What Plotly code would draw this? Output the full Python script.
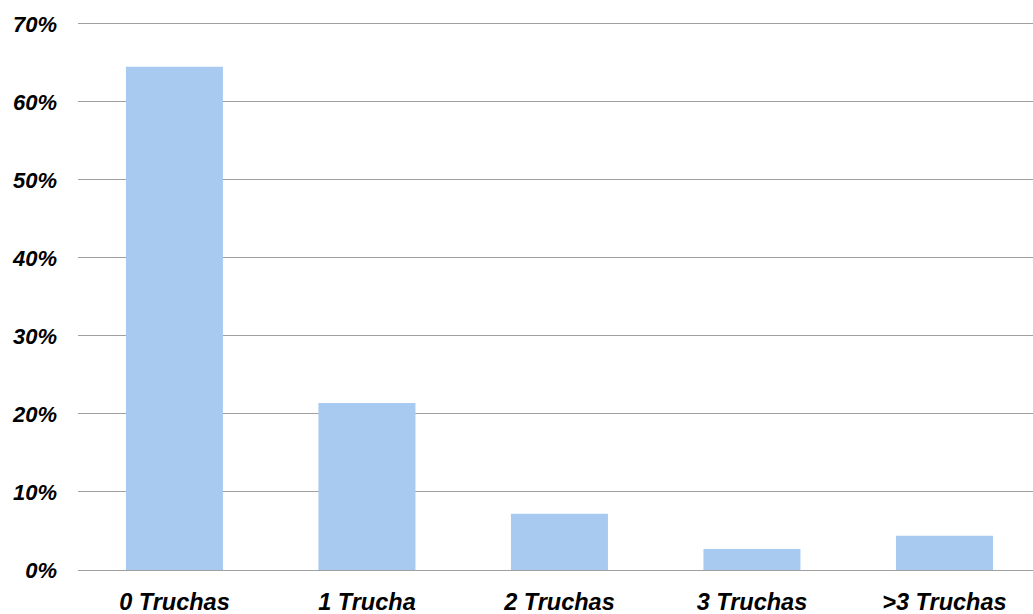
import plotly.graph_objects as go

categories = ["0 Truchas", "1 Trucha", "2 Truchas", "3 Truchas", ">3 Truchas"]
values = [64.5, 21.4, 7.2, 2.7, 4.4]
y_ticks = [0, 10, 20, 30, 40, 50, 60, 70]

font = dict(family="Liberation Sans, Arial, sans-serif", size=22, color="#000000")
xfont = dict(family="Liberation Sans, Arial, sans-serif", size=23.5, color="#000000")

fig = go.Figure(go.Bar(
    x=categories, y=values,
    marker=dict(color="#A8CAF0", line=dict(width=0)),
))

fig.update_layout(
    width=1033, height=614,
    margin=dict(l=78, r=0, t=20, b=44),
    plot_bgcolor="white", paper_bgcolor="white",
    bargap=0.496,
    showlegend=False,
    font=font,
)
fig.update_yaxes(
    range=[0, 70.5], tickvals=y_ticks, ticktext=[f"<b><i>{v}%</i></b>" for v in y_ticks],
    showgrid=True, gridcolor="#a0a0a0", gridwidth=1,
    zeroline=True, zerolinecolor="#a0a0a0", zerolinewidth=1,
    showline=False, ticks="", ticklabelstandoff=20, tickfont=font,
)
fig.update_xaxes(
    range=[-0.501, 4.46],
    tickvals=categories, ticktext=[f"<b><i>{c}</i></b>" for c in categories],
    showgrid=False, showline=False, ticks="", tickfont=xfont, ticklabelstandoff=15,
)

fig.write_html("out.html")
